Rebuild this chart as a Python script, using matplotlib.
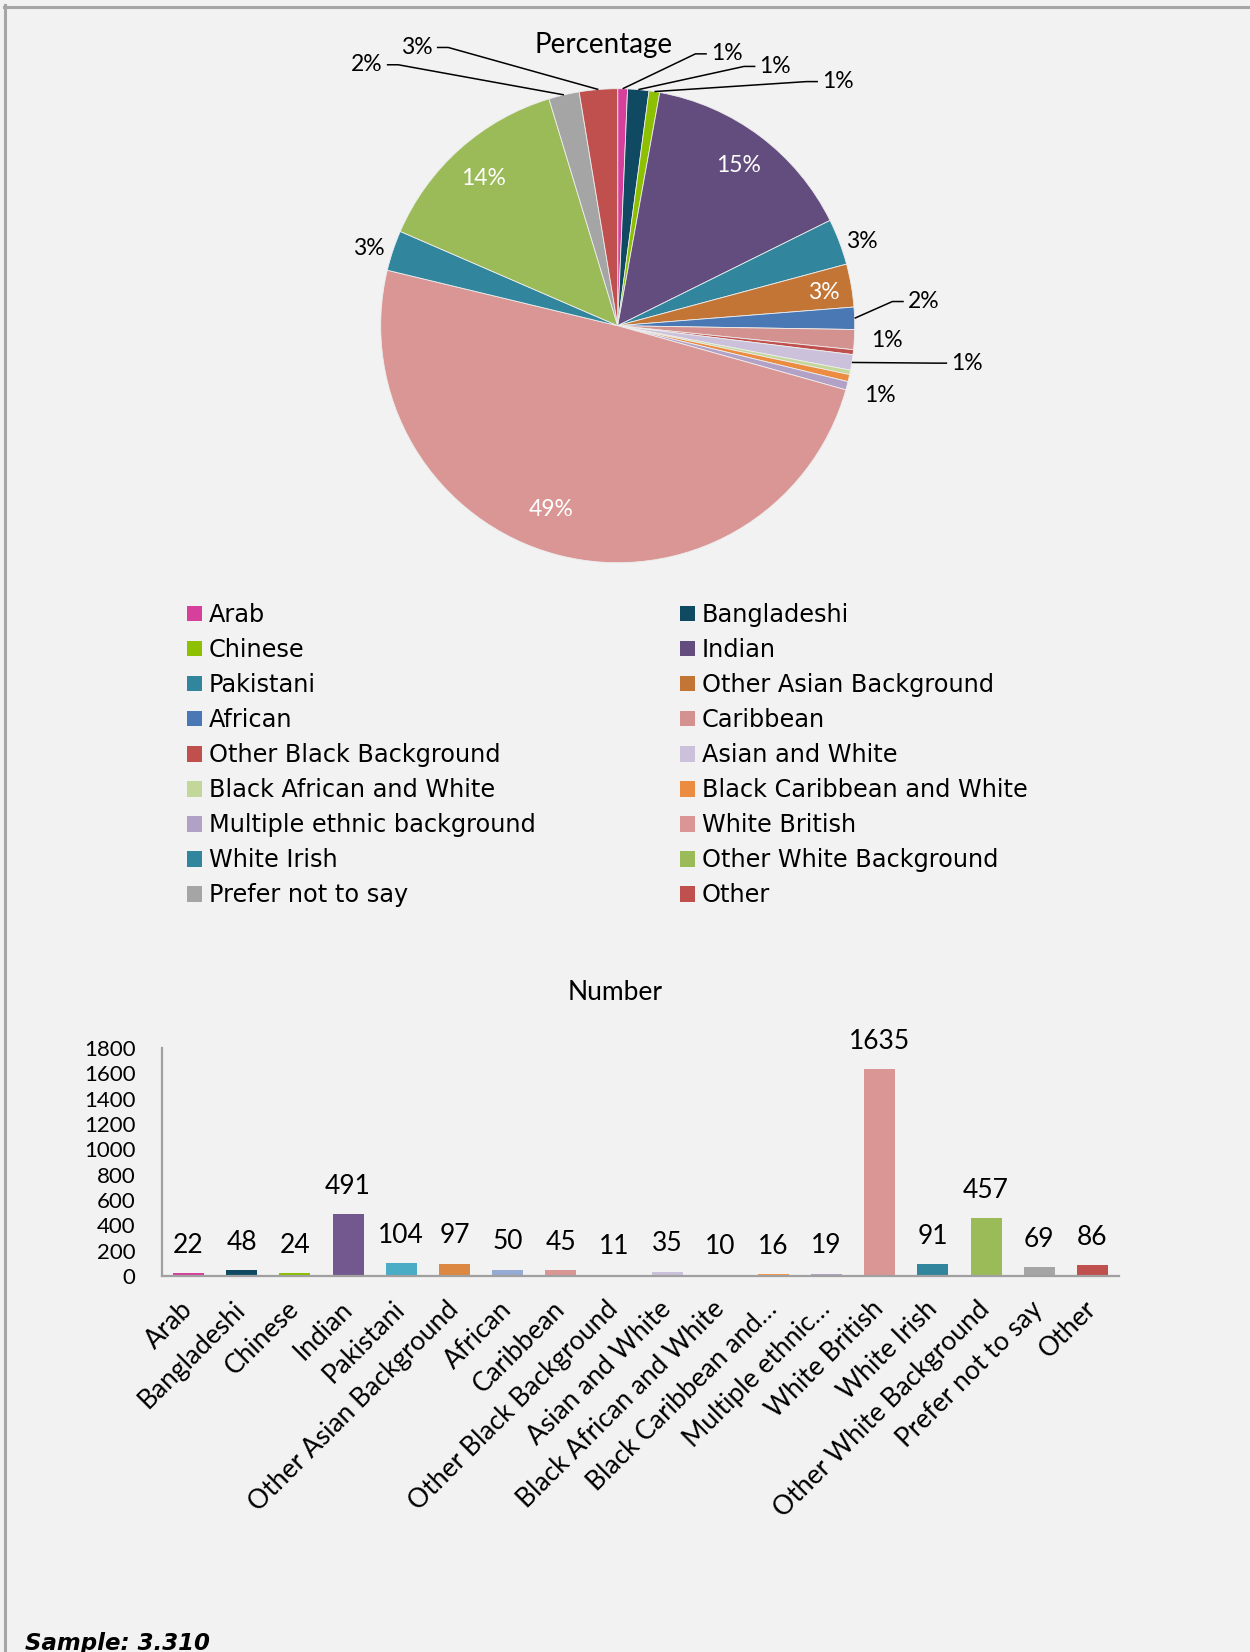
import numpy as np
import matplotlib.pyplot as plt
from matplotlib.patches import Patch
from matplotlib.lines import Line2D

plt.rcParams['font.family'] = ['Lato', 'DejaVu Sans']

# ethnicity categories (legend names) and shortened names used on the bar axis
categories = ['Arab', 'Bangladeshi', 'Chinese', 'Indian', 'Pakistani',
              'Other Asian Background', 'African', 'Caribbean',
              'Other Black Background', 'Asian and White',
              'Black African and White', 'Black Caribbean and White',
              'Multiple ethnic background', 'White British', 'White Irish',
              'Other White Background', 'Prefer not to say', 'Other']
bar_names = ['Arab', 'Bangladeshi', 'Chinese', 'Indian', 'Pakistani',
             'Other Asian Background', 'African', 'Caribbean',
             'Other Black Background', 'Asian and White',
             'Black African and White', 'Black Caribbean and\u2026',
             'Multiple ethnic\u2026', 'White British', 'White Irish',
             'Other White Background', 'Prefer not to say', 'Other']
counts = [22, 48, 24, 491, 104, 97, 50, 45, 11, 35, 10, 16, 19, 1635, 91, 457, 69, 86]
sample_text = 'Sample: 3.310'

pie_colors = ['#D6409B', '#0F4A62', '#8DC000', '#634C7E', '#31859C', '#C27535',
              '#4A78B4', '#D39290', '#C0504D', '#CCC1DA', '#C4D79B', '#EB8C41',
              '#B2A1C7', '#DA9694', '#31859C', '#9BBB59', '#A5A5A5', '#C0504D']
bar_colors = ['#D6409B', '#0F4A62', '#8DC000', '#73588F', '#4BACC6', '#DD8842',
              '#95ABD3', '#D99694', '#C0504D', '#CCC1DA', '#C4D79B', '#F79646',
              '#B2A1C7', '#D99694', '#31859C', '#9BBB59', '#A5A5A5', '#C0504D']

# pie label placement, in units of the pie radius: (x, y, kind)
# kind: 'in' = white label inside, 'out' = black label, 'L'/'R' = leader line,
# text to the right / left of the leader
pie_label_pos = [(0.393, 1.147, 'L'), (0.598, 1.094, 'L'), (0.862, 1.03, 'L'),
                 (0.509, 0.674, 'in'), (1.031, 0.357, 'out'), (0.871, 0.138, 'in'),
                 (1.224, 0.102, 'L'), (1.134, -0.063, 'out'), None,
                 (1.407, -0.158, 'L'), None, None,
                 (1.107, -0.295, 'out'), (-0.281, -0.777, 'in'), (-1.049, 0.326, 'out'),
                 (-0.567, 0.621, 'in'), (-0.991, 1.101, 'R'), (-0.78, 1.174, 'R')]

W, H = 1250, 1652
bg = '#F2F2F2'
fig = plt.figure(figsize=(W / 100, H / 100), dpi=100, facecolor=bg)

# ---- pie ----
R = 237.0
cx, cy = 617.7, 325.7
xl, yl = (-1.6, 1.6), (-1.15, 1.35)
ax = fig.add_axes([(cx + xl[0] * R) / W, (H - cy + yl[0] * R) / H,
                   (xl[1] - xl[0]) * R / W, (yl[1] - yl[0]) * R / H])
ax.set_facecolor(bg)
wedges, _ = ax.pie(counts, colors=pie_colors, startangle=90, counterclock=False,
                   radius=1, wedgeprops=dict(edgecolor='#EDEDED', linewidth=0.6))
ax.set_xlim(*xl)
ax.set_ylim(*yl)
ax.set_aspect('equal')
ax.axis('off')

total = sum(counts)
for i, pos in enumerate(pie_label_pos):
    if pos is None:
        continue
    x, y, kind = pos
    txt = '%d%%' % round(counts[i] / total * 100)
    color = 'white' if kind == 'in' else 'black'
    ha = {'L': 'left', 'R': 'right'}.get(kind, 'center')
    ax.text(x, y, txt, color=color, ha=ha, va='center', fontsize=16.5)
    if kind in ('L', 'R'):
        w = wedges[i]
        mid = np.deg2rad((w.theta1 + w.theta2) / 2)
        s = 1 if kind == 'L' else -1
        xs = [np.cos(mid), x - s * 0.065, x - s * 0.017]
        ys = [np.sin(mid), y, y]
        ax.plot(xs, ys, color='black', lw=1.1, solid_capstyle='butt')

fig.text(604 / W, 1 - 45 / H, 'Percentage', ha='center', va='center', fontsize=20)

# ---- legend (two columns, row-major order) ----
handles = [Patch(facecolor=c, edgecolor='none') for c in pie_colors]
leg_kw = dict(loc='upper left', frameon=False, borderpad=0, borderaxespad=0,
              handlelength=0.62, handleheight=0.62, handletextpad=0.3,
              labelspacing=0.46, prop={'family': 'DejaVu Sans', 'size': 17.3})
fig.legend(handles[0::2], categories[0::2], bbox_to_anchor=(187 / W, 1 - 603 / H), **leg_kw)
fig.legend(handles[1::2], categories[1::2], bbox_to_anchor=(680 / W, 1 - 603 / H), **leg_kw)

# ---- bar chart ----
bx = fig.add_axes([162 / W, 1 - 1276 / H, (1119 - 162) / W, (1276 - 1048) / H])
bx.set_facecolor(bg)
xpos = np.arange(len(counts))
bars = bx.bar(xpos, counts, width=0.58, color=bar_colors)
bx.bar_label(bars, padding=11, fontsize=19, clip_on=False)
bx.set_xlim(-0.5, len(counts) - 0.5)
bx.set_ylim(0, 1800)
bx.set_yticks(range(0, 1801, 200))
bx.set_xticks(xpos)
bx.set_xticklabels(bar_names, rotation=45, ha='right', va='center',
                   rotation_mode='anchor', fontsize=19)
for sp in ('top', 'right'):
    bx.spines[sp].set_visible(False)
for sp in ('left', 'bottom'):
    bx.spines[sp].set_color('#A0A0A0')
    bx.spines[sp].set_linewidth(1.6)
bx.tick_params(axis='y', length=0, pad=19, labelsize=16)
bx.tick_params(axis='x', length=0, pad=21)

fig.text(615 / W, 1 - 993 / H, 'Number', ha='center', va='center', fontsize=19)

fig.text(25 / W, 1 - 1650 / H, sample_text, family='DejaVu Sans', fontweight='bold',
         style='italic', fontsize=16.5, va='baseline')

# page frame lines (top and left)
fig.add_artist(Line2D([5 / W, 5 / W], [0, 1 - 5 / H], transform=fig.transFigure,
                      color='#A6A6A6', lw=2.2))
fig.add_artist(Line2D([4 / W, 1], [1 - 6.5 / H, 1 - 6.5 / H], transform=fig.transFigure,
                      color='#A6A6A6', lw=2.2))

fig.savefig('out.png', dpi=100, facecolor=bg)
